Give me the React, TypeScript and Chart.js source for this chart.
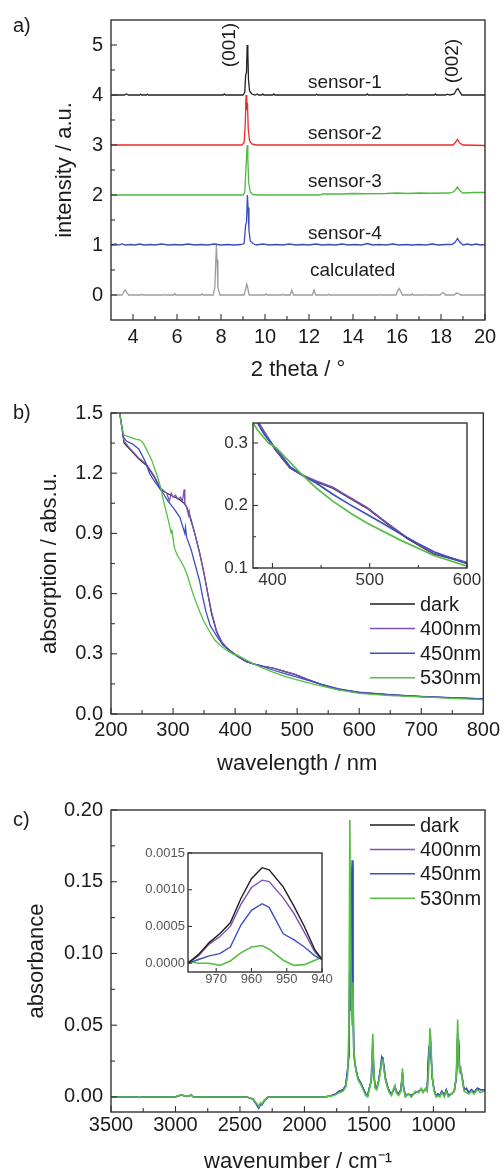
import React, { useEffect, useRef } from "react";
import { Chart, registerables } from "chart.js";

Chart.register(...registerables);

const FONT = "'Liberation Sans', Arial, Helvetica, sans-serif";
const INK = "#1c1c1c";

// ---------------- Panel a) XRD ----------------
const A_X_TICKS = [4, 6, 8, 10, 12, 14, 16, 18, 20];
const A_X_MINOR = [5, 7, 9, 11, 13, 15, 17, 19];
const A_Y_TICKS = [0, 1, 2, 3, 4, 5];
const A_Y_MINOR = [0.5, 1.5, 2.5, 3.5, 4.5];
const A_SERIES_NAMES = ["sensor-1", "sensor-2", "sensor-3", "sensor-4", "calculated"];
const A_SENSOR1: [number, number][] = [
  [3.0, 4.0], [3.6, 4.0], [3.7, 4.02], [3.8, 4.0], [4.3, 4.0], [4.35, 4.015], [4.4, 4.0], [4.6, 4.0], [4.65, 4.015], [4.7, 4.0],
  [8.1, 4.0], [8.15, 4.02], [8.2, 4.0], [9.0, 4.0], [9.08, 4.05], [9.12, 4.4], [9.16, 4.45], [9.19, 5.0], [9.22, 4.85], [9.25, 4.3],
  [9.3, 4.08], [9.4, 4.02], [9.55, 4.0], [9.65, 4.02], [9.7, 4.0], [9.85, 4.0], [9.9, 4.02], [9.95, 4.0], [10.35, 4.0], [10.4, 4.02],
  [10.45, 4.0], [12.3, 4.0], [12.35, 4.015], [12.4, 4.0], [14.6, 4.0], [14.65, 4.02], [14.7, 4.0], [16.4, 4.0], [16.45, 4.015], [16.5, 4.0],
  [17.7, 4.0], [17.75, 4.02], [17.8, 4.0], [18.2, 4.0], [18.3, 4.015], [18.4, 4.0], [18.6, 4.02], [18.7, 4.1], [18.77, 4.13], [18.85, 4.06],
  [18.95, 4.0], [20.0, 4.0],
];
const A_SENSOR2: [number, number][] = [
  [3.0, 3.0], [8.95, 3.0], [9.05, 3.05], [9.1, 3.4], [9.14, 4.0], [9.17, 3.7], [9.2, 3.85], [9.24, 3.3], [9.3, 3.08], [9.4, 3.02],
  [9.6, 3.0], [18.55, 3.0], [18.65, 3.05], [18.75, 3.11], [18.85, 3.04], [19.0, 3.0], [20.0, 2.99],
];
const A_SENSOR3: [number, number][] = [
  [3.0, 2.0], [9.0, 2.0], [9.08, 2.05], [9.13, 2.5], [9.16, 2.75], [9.19, 3.0], [9.22, 2.7], [9.26, 2.25], [9.33, 2.06], [9.45, 2.01],
  [9.7, 2.0], [12.5, 2.0], [12.6, 2.02], [13.5, 2.02], [14.0, 2.03], [14.5, 2.025], [15.5, 2.03], [16.0, 2.04], [16.5, 2.03], [17.0, 2.04],
  [17.5, 2.035], [18.4, 2.04], [18.6, 2.07], [18.75, 2.16], [18.85, 2.09], [19.0, 2.04], [19.5, 2.05], [20.0, 2.05],
];
const A_SENSOR4: [number, number][] = [
  [3.0, 1.0], [3.2, 1.02], [3.35, 1.0], [3.5, 1.02], [3.65, 1.0], [3.9, 1.01], [4.1, 1.0], [4.3, 1.02], [4.5, 1.0], [4.8, 1.01],
  [5.0, 1.0], [5.3, 1.02], [5.6, 1.0], [5.9, 1.01], [6.2, 1.0], [6.5, 1.02], [6.8, 1.0], [7.1, 1.01], [7.4, 1.0], [7.7, 1.02],
  [8.0, 1.0], [8.3, 1.01], [8.6, 1.0], [8.9, 1.01], [9.05, 1.03], [9.12, 1.4], [9.16, 1.45], [9.2, 2.0], [9.23, 1.75], [9.27, 1.3],
  [9.33, 1.08], [9.45, 1.03], [9.6, 1.0], [9.9, 1.02], [10.2, 1.0], [10.5, 1.01], [10.8, 1.0], [11.1, 1.02], [11.4, 1.0], [11.7, 1.01],
  [12.0, 1.0], [12.3, 1.02], [12.6, 1.0], [12.9, 1.01], [13.2, 1.0], [13.5, 1.02], [13.8, 1.0], [14.1, 1.01], [14.4, 1.0], [14.65, 1.03],
  [14.9, 1.0], [15.2, 1.01], [15.5, 1.0], [15.8, 1.02], [16.1, 1.0], [16.4, 1.01], [16.7, 1.0], [17.0, 1.01], [17.3, 1.0], [17.6, 1.02],
  [17.9, 1.0], [18.2, 1.01], [18.5, 1.01], [18.65, 1.06], [18.75, 1.13], [18.85, 1.06], [19.0, 1.0], [19.2, 1.02], [19.4, 1.0], [19.6, 1.02],
  [19.8, 1.0], [20.0, 1.01],
];
const A_CALC: [number, number][] = [
  [3.0, 0.0], [3.5, 0.0], [3.6, 0.08], [3.65, 0.1], [3.72, 0.05], [3.8, 0.0], [4.35, 0.0], [4.4, 0.015], [4.45, 0.0], [5.4, 0.0],
  [5.45, 0.01], [5.5, 0.0], [5.85, 0.0], [5.9, 0.03], [5.95, 0.0], [7.1, 0.0], [7.15, 0.02], [7.2, 0.0], [7.65, 0.0], [7.72, 0.15],
  [7.76, 0.65], [7.79, 1.0], [7.82, 0.7], [7.86, 0.15], [7.95, 0.0], [9.05, 0.0], [9.12, 0.12], [9.17, 0.22], [9.21, 0.15], [9.28, 0.0],
  [10.0, 0.0], [10.05, 0.02], [10.1, 0.0], [10.75, 0.0], [10.8, 0.015], [10.85, 0.0], [11.15, 0.0], [11.22, 0.1], [11.3, 0.0], [12.15, 0.0],
  [12.23, 0.1], [12.3, 0.0], [12.85, 0.0], [12.9, 0.015], [12.95, 0.0], [15.15, 0.0], [15.2, 0.01], [15.25, 0.0], [15.95, 0.0], [16.05, 0.1],
  [16.1, 0.13], [16.15, 0.09], [16.25, 0.0], [16.65, 0.0], [16.7, 0.02], [16.75, 0.0], [17.25, 0.0], [17.3, 0.01], [17.35, 0.0], [17.95, 0.0],
  [18.05, 0.04], [18.1, 0.05], [18.2, 0.0], [18.6, 0.0], [18.7, 0.04], [18.8, 0.03], [18.9, 0.0], [20.0, 0.0],
];
const A_NOTES = [
  { text: "sensor-1", x: 11.95, y: 4.24 },
  { text: "sensor-2", x: 11.95, y: 3.23 },
  { text: "sensor-3", x: 11.95, y: 2.27 },
  { text: "sensor-4", x: 11.95, y: 1.23 },
  { text: "calculated", x: 12.04, y: 0.48 },
  { text: "(001)", x: 8.41, y: 5.0, rot: true },
  { text: "(002)", x: 18.55, y: 4.68, rot: true },
];

// ---------------- Panel b) UV-vis ----------------
const B_X_TICKS = [200, 300, 400, 500, 600, 700, 800];
const B_X_MINOR = [250, 350, 450, 550, 650, 750];
const B_Y_TICKS = [0, 0.3, 0.6, 0.9, 1.2, 1.5];
const B_Y_MINOR = [0.15, 0.45, 0.75, 1.05, 1.35];
const BI_X_TICKS = [400, 500, 600];
const BI_X_MINOR = [450, 550];
const BI_Y_TICKS = [0.1, 0.2, 0.3];
const BI_Y_MINOR = [0.15, 0.25];
const SERIES_NAMES = ["dark", "400nm", "450nm", "530nm"];
const B_DARK: [number, number][] = [
  [214, 1.5], [218, 1.42], [221, 1.35], [230, 1.32], [245, 1.27], [257, 1.24], [270, 1.18], [280, 1.12], [290, 1.1], [300, 1.085],
  [310, 1.07], [318, 1.05], [322, 1.03], [328, 0.98], [335, 0.9], [343, 0.8], [350, 0.7], [356, 0.6], [362, 0.5], [370, 0.41],
  [378, 0.36], [386, 0.33], [394, 0.31], [404, 0.287], [418, 0.26], [432, 0.247], [445, 0.238], [462, 0.228], [476, 0.215], [497, 0.196],
  [517, 0.172], [538, 0.148], [565, 0.123], [600, 0.108], [650, 0.095], [700, 0.087], [750, 0.08], [800, 0.075],
];
const B_400: [number, number][] = [
  [214, 1.5], [218, 1.42], [221, 1.36], [230, 1.325], [245, 1.275], [257, 1.245], [270, 1.185], [280, 1.125], [290, 1.1], [294, 1.06],
  [297, 1.1], [300, 1.08], [304, 1.09], [308, 1.07], [312, 1.08], [315, 1.06], [318, 1.12], [319, 1.05], [322, 1.03], [325, 0.99],
  [326, 1.01], [328, 0.97], [335, 0.9], [343, 0.8], [350, 0.7], [356, 0.6], [362, 0.51], [370, 0.415], [378, 0.362], [386, 0.332],
  [394, 0.312], [404, 0.288], [418, 0.261], [432, 0.248], [445, 0.239], [462, 0.229], [476, 0.216], [497, 0.197], [517, 0.173], [538, 0.149],
  [565, 0.124], [600, 0.109], [650, 0.096], [700, 0.088], [750, 0.081], [800, 0.075],
];
const B_450: [number, number][] = [
  [214, 1.5], [220, 1.38], [225, 1.36], [235, 1.345], [245, 1.32], [255, 1.26], [262, 1.2], [270, 1.16], [284, 1.1], [292, 1.06],
  [300, 1.03], [311, 0.98], [317, 0.92], [319, 0.9], [320, 0.93], [322, 0.88], [329, 0.82], [336, 0.74], [343, 0.66], [348, 0.58],
  [353, 0.51], [360, 0.44], [370, 0.39], [380, 0.345], [391, 0.315], [400, 0.297], [407, 0.285], [418, 0.262], [432, 0.247], [445, 0.236],
  [462, 0.218], [480, 0.201], [497, 0.186], [515, 0.17], [531, 0.155], [550, 0.139], [566, 0.126], [600, 0.107], [650, 0.095], [700, 0.087],
  [750, 0.08], [800, 0.075],
];
const B_530: [number, number][] = [
  [214, 1.5], [218, 1.42], [221, 1.39], [230, 1.38], [240, 1.37], [247, 1.365], [252, 1.35], [257, 1.32], [265, 1.27], [273, 1.2],
  [280, 1.13], [284, 1.07], [288, 1.02], [292, 0.97], [297, 0.9], [298, 0.92], [302, 0.83], [307, 0.79], [313, 0.76], [318, 0.73],
  [322, 0.7], [327, 0.65], [332, 0.6], [338, 0.55], [343, 0.51], [350, 0.46], [359, 0.41], [367, 0.37], [375, 0.345], [385, 0.32],
  [396, 0.3], [404, 0.292], [428, 0.253], [445, 0.228], [462, 0.207], [480, 0.188], [497, 0.172], [531, 0.145], [566, 0.12], [600, 0.103],
  [650, 0.092], [700, 0.085], [750, 0.078], [800, 0.072],
];

// ---------------- Panel c) FTIR ----------------
const C_X_TICKS = [3500, 3000, 2500, 2000, 1500, 1000];
const C_X_MINOR = [3250, 2750, 2250, 1750, 1250, 750];
const C_Y_TICKS = [0, 0.05, 0.1, 0.15, 0.2];
const C_Y_MINOR = [0.025, 0.075, 0.125, 0.175];
const C_X = [
  3500, 3300, 3280, 3260, 3000, 2960, 2940, 2915, 2895, 2880,
  2860, 2450, 2400, 2370, 2355, 2340, 2330, 2310, 2280, 1850,
  1800, 1760, 1730, 1700, 1680, 1665, 1655, 1648, 1642, 1636,
  1630, 1624, 1618, 1610, 1600, 1585, 1565, 1545, 1525, 1510,
  1495, 1482, 1470, 1462, 1452, 1440, 1425, 1410, 1400, 1392,
  1385, 1372, 1358, 1342, 1325, 1308, 1298, 1288, 1270, 1252,
  1240, 1232, 1218, 1195, 1170, 1140, 1115, 1095, 1080, 1062,
  1048, 1036, 1027, 1020, 1010, 995, 980, 965, 950, 935,
  915, 900, 885, 860, 838, 822, 812, 805, 797, 787,
  776, 762, 745, 725, 705, 685, 660, 635, 610, 600,
];
const C_530 = [
  0, 0, -0.0004, 0, 0, 0.0015, 0.0012, 0.0004, 0.0006, 0.0016,
  0, 0, -0.0012, -0.0045, -0.0065, -0.004, -0.0048, -0.002, 0, 0,
  0.0005, 0.0015, 0.003, 0.004, 0.007, 0.015, 0.05, 0.193, 0.11, 0.06,
  0.05, 0.08, 0.035, 0.025, 0.018, 0.012, 0.009, 0.005, 0.001, 0.0,
  0.006, 0.012, 0.044, 0.018, 0.006, 0.005, 0.01, 0.018, 0.025, 0.026,
  0.02, 0.012, 0.007, 0.003, 0.001, 0.006, 0.008, 0.003, 0.001, 0.004,
  0.02, 0.006, 0.0, 0.002, 0.0, 0.004, 0.003, 0.006, 0.003, 0.006,
  0.004, 0.02, 0.048, 0.04, 0.015, 0.004, 0.0, 0.001, 0.0, 0.003,
  0.0, 0.004, 0.0, 0.002, 0.004, 0.015, 0.054, 0.03, 0.018, 0.02,
  0.012, 0.004, 0.003, 0.002, 0.004, 0.002, 0.005, 0.003, 0.004, 0.004,
];
const C_450 = [
  0, 0, -0.0004, 0, 0, 0.0013, 0.001, 0.0003, 0.0005, 0.0014,
  0, 0, -0.0015, -0.0055, -0.0078, -0.005, -0.0055, -0.0025, 0, 0,
  0.0006, 0.002, 0.004, 0.005, 0.008, 0.02, 0.03, 0.097, 0.06, 0.09,
  0.165, 0.08, 0.033, 0.024, 0.019, 0.013, 0.01, 0.006, 0.002, 0.001,
  0.007, 0.011, 0.038, 0.016, 0.007, 0.006, 0.011, 0.02, 0.028, 0.027,
  0.022, 0.013, 0.008, 0.004, 0.002, 0.005, 0.007, 0.004, 0.002, 0.005,
  0.017, 0.007, 0.001, 0.002, 0.001, 0.003, 0.004, 0.005, 0.004, 0.005,
  0.006, 0.033, 0.03, 0.034, 0.014, 0.005, 0.001, 0.002, 0.001, 0.004,
  0.001, 0.005, 0.001, 0.002, 0.004, 0.014, 0.044, 0.04, 0.02, 0.018,
  0.013, 0.005, 0.006, 0.003, 0.005, 0.003, 0.006, 0.005, 0.005, 0.005,
];
const C_400 = [
  0, 0, -0.0004, 0, 0, 0.0013, 0.001, 0.0003, 0.0005, 0.0014,
  0, 0, -0.0014, -0.0052, -0.0075, -0.0048, -0.0053, -0.0024, 0, 0,
  0.0006, 0.002, 0.004, 0.005, 0.008, 0.019, 0.03, 0.095, 0.06, 0.088,
  0.162, 0.079, 0.033, 0.024, 0.019, 0.013, 0.01, 0.006, 0.002, 0.001,
  0.007, 0.011, 0.037, 0.016, 0.007, 0.006, 0.011, 0.02, 0.027, 0.027,
  0.022, 0.013, 0.008, 0.004, 0.002, 0.005, 0.007, 0.004, 0.002, 0.005,
  0.017, 0.007, 0.001, 0.002, 0.001, 0.003, 0.004, 0.005, 0.004, 0.005,
  0.006, 0.032, 0.03, 0.033, 0.014, 0.005, 0.001, 0.002, 0.001, 0.004,
  0.001, 0.005, 0.001, 0.002, 0.004, 0.014, 0.043, 0.039, 0.02, 0.018,
  0.013, 0.005, 0.006, 0.003, 0.005, 0.003, 0.006, 0.005, 0.005, 0.005,
];
const C_DARK = [
  0, 0, -0.0004, 0, 0, 0.0013, 0.001, 0.0003, 0.0005, 0.0014,
  0, 0, -0.0014, -0.0052, -0.0074, -0.0048, -0.0053, -0.0024, 0, 0,
  0.0006, 0.002, 0.004, 0.005, 0.008, 0.019, 0.03, 0.094, 0.06, 0.087,
  0.16, 0.078, 0.033, 0.024, 0.019, 0.013, 0.01, 0.006, 0.002, 0.001,
  0.007, 0.011, 0.037, 0.016, 0.007, 0.006, 0.011, 0.02, 0.027, 0.027,
  0.022, 0.013, 0.008, 0.004, 0.002, 0.005, 0.007, 0.004, 0.002, 0.005,
  0.017, 0.007, 0.001, 0.002, 0.001, 0.003, 0.004, 0.005, 0.004, 0.005,
  0.006, 0.032, 0.03, 0.033, 0.014, 0.005, 0.001, 0.002, 0.001, 0.004,
  0.001, 0.005, 0.001, 0.002, 0.004, 0.014, 0.043, 0.039, 0.02, 0.018,
  0.013, 0.005, 0.006, 0.003, 0.005, 0.003, 0.006, 0.005, 0.005, 0.005,
];
const CI_X_TICKS = [970, 960, 950, 940];
const CI_Y_TICKS = [0, 0.0005, 0.001, 0.0015];
const CI_X = [978, 975, 972, 969, 966, 963, 960, 957, 955, 951, 948, 945, 942, 940];
const CI_DARK = [0.0, 0.00012, 0.00028, 0.0004, 0.00055, 0.00088, 0.00115, 0.0013, 0.00127, 0.00104, 0.00078, 0.0005, 0.00018, 0.00005];
const CI_400 = [0.0, 0.0001, 0.00026, 0.00036, 0.0005, 0.0008, 0.00103, 0.00113, 0.00111, 0.00089, 0.00068, 0.00042, 0.00015, 0.00005];
const CI_450 = [0.0, 0.00005, 0.0001, 0.00013, 0.00022, 0.00052, 0.00072, 0.00081, 0.00076, 0.0004, 0.00032, 0.00022, 0.0001, 0.00005];
const CI_530 = [0.00003, 0.0, 0.0, -0.00003, 0.00003, 0.00014, 0.00022, 0.00024, 0.00019, 0.00004, -0.00003, -0.00002, 0.00004, 0.00008];

const COL = { dark: "#1e1e1e", p400: "#7b52b3", p450: "#3c4fbf", p530: "#55c044" };

// ---------------- helpers ----------------
const pairs = (arr: [number, number][]) => arr.map(([x, y]) => ({ x, y }));
const zipXY = (xs: number[], ys: number[]) => xs.map((x, i) => ({ x, y: ys[i] }));

type Geo = { w: number; h: number; left: number; right: number; top: number; bottom: number };

function framePlugin(xMinor: number[], yMinor: number[], major: number, minor: number) {
  return {
    id: "frame",
    afterDraw(chart: any) {
      const { ctx, chartArea } = chart;
      const { left, right, top, bottom } = chartArea;
      const xs = chart.scales.x;
      const ys = chart.scales.y;
      ctx.save();
      ctx.strokeStyle = "#333";
      ctx.lineWidth = 1.4;
      ctx.strokeRect(left, top, right - left, bottom - top);
      ctx.lineWidth = 1.1;
      const dx = (vals: number[], len: number) =>
        vals.forEach((v) => {
          const p = xs.getPixelForValue(v);
          if (p < left - 0.5 || p > right + 0.5) return;
          ctx.beginPath();
          ctx.moveTo(p, bottom);
          ctx.lineTo(p, bottom - len);
          ctx.stroke();
        });
      const dy = (vals: number[], len: number) =>
        vals.forEach((v) => {
          const p = ys.getPixelForValue(v);
          if (p < top - 0.5 || p > bottom + 0.5) return;
          ctx.beginPath();
          ctx.moveTo(left, p);
          ctx.lineTo(left + len, p);
          ctx.stroke();
        });
      dx(xs.ticks.map((t: any) => t.value), major);
      dx(xMinor, minor);
      dy(ys.ticks.map((t: any) => t.value), major);
      dy(yMinor, minor);
      ctx.restore();
    },
  };
}

function keyPlugin(x: number, y: number, step: number, size: number) {
  return {
    id: "key",
    afterDraw(chart: any) {
      const ctx = chart.ctx;
      ctx.save();
      ctx.font = `${size}px ${FONT}`;
      ctx.textBaseline = "middle";
      ctx.textAlign = "left";
      chart.data.datasets.forEach((ds: any, i: number) => {
        const yy = y + i * step;
        ctx.strokeStyle = ds.borderColor;
        ctx.lineWidth = 1.5;
        ctx.beginPath();
        ctx.moveTo(x, yy);
        ctx.lineTo(x + 45, yy);
        ctx.stroke();
        ctx.fillStyle = INK;
        ctx.fillText(ds.label, x + 50, yy + 1);
      });
      ctx.restore();
    },
  };
}

function notesPlugin(items: { text: string; x: number; y: number; rot?: boolean }[], size: number) {
  return {
    id: "notes",
    afterDatasetsDraw(chart: any) {
      const { ctx } = chart;
      const xs = chart.scales.x;
      const ys = chart.scales.y;
      ctx.save();
      ctx.fillStyle = INK;
      ctx.font = `${size}px ${FONT}`;
      items.forEach((it) => {
        const px = xs.getPixelForValue(it.x);
        const py = ys.getPixelForValue(it.y);
        ctx.save();
        ctx.translate(px, py);
        if (it.rot) {
          ctx.rotate(-Math.PI / 2);
          ctx.textAlign = "center";
        } else {
          ctx.textAlign = "left";
        }
        ctx.textBaseline = "middle";
        ctx.fillText(it.text, 0, 0);
        ctx.restore();
      });
      ctx.restore();
    },
  };
}

type AxisSpec = {
  min: number;
  max: number;
  reverse?: boolean;
  ticks: number[];
  fmt: (v: number) => string;
  title?: string;
  titlePad?: number;
  pad: number;
};

function buildConfig(opts: {
  geo: Geo;
  datasets: any[];
  x: AxisSpec;
  y: AxisSpec;
  tickSize: number;
  tickColor?: string;
  plugins: any[];
}) {
  const { geo, x, y, tickSize } = opts;
  const tickColor = opts.tickColor || INK;
  const titleFont = { family: FONT, size: 22, lineHeight: 1 };
  return {
    type: "line",
    data: { datasets: opts.datasets },
    options: {
      animation: false,
      responsive: false,
      maintainAspectRatio: false,
      events: [],
      layout: { padding: { left: 0, top: geo.top, right: geo.w - geo.right, bottom: 0 } },
      elements: { point: { radius: 0 }, line: { tension: 0, borderWidth: 1.2 } },
      plugins: { legend: { display: false }, tooltip: { enabled: false } },
      scales: {
        x: {
          type: "linear",
          min: x.min,
          max: x.max,
          reverse: !!x.reverse,
          grid: { display: false, drawTicks: false, tickLength: 0 },
          border: { display: false },
          afterBuildTicks: (s: any) => {
            s.ticks = x.ticks.map((v) => ({ value: v }));
          },
          afterFit: (s: any) => {
            s.height = geo.h - geo.bottom;
          },
          ticks: {
            autoSkip: false,
            maxRotation: 0,
            padding: x.pad,
            color: tickColor,
            font: { family: FONT, size: tickSize },
            callback: (v: number) => x.fmt(v),
          },
          title: {
            display: !!x.title,
            text: x.title || "",
            color: INK,
            font: titleFont,
            padding: { top: 0, bottom: x.titlePad || 0 },
          },
        },
        y: {
          type: "linear",
          min: y.min,
          max: y.max,
          grid: { display: false, drawTicks: false, tickLength: 0 },
          border: { display: false },
          afterBuildTicks: (s: any) => {
            s.ticks = y.ticks.map((v) => ({ value: v }));
          },
          afterFit: (s: any) => {
            s.width = geo.left;
          },
          ticks: {
            autoSkip: false,
            padding: y.pad,
            color: tickColor,
            font: { family: FONT, size: tickSize },
            callback: (v: number) => y.fmt(v),
          },
          title: {
            display: !!y.title,
            text: y.title || "",
            color: INK,
            font: titleFont,
            padding: { top: y.titlePad || 0, bottom: 0 },
          },
        },
      },
    },
    plugins: opts.plugins,
  } as any;
}

function ChartBox({ left, top, w, h, make }: { left: number; top: number; w: number; h: number; make: () => any }) {
  const ref = useRef<HTMLCanvasElement>(null);
  useEffect(() => {
    const chart = new Chart(ref.current as HTMLCanvasElement, make());
    return () => chart.destroy();
  }, []);
  return (
    <div style={{ position: "absolute", left, top, width: w, height: h }}>
      <canvas ref={ref} width={w} height={h} style={{ width: w, height: h, display: "block" }} />
    </div>
  );
}

const str = (v: number) => String(v);

function makeA() {
  const geo = { w: 504, h: 385, left: 111, right: 485, top: 19, bottom: 320 };
  const cols = ["#222222", "#ee2b2b", "#4cbb3c", "#3c4cb8", "#9d9d9d"];
  const data = [A_SENSOR1, A_SENSOR2, A_SENSOR3, A_SENSOR4, A_CALC];
  const datasets = data.map((d, i) => ({
    label: A_SERIES_NAMES[i],
    data: pairs(d),
    borderColor: cols[i],
    borderWidth: 1.3,
  }));
  return buildConfig({
    geo,
    datasets,
    x: { min: 3, max: 20, ticks: A_X_TICKS, fmt: str, title: "2 theta / °", titlePad: 4, pad: 5 },
    y: { min: -0.5, max: 5.5, ticks: A_Y_TICKS, fmt: str, title: "intensity / a.u.", titlePad: 54, pad: 8 },
    tickSize: 20,
    plugins: [framePlugin(A_X_MINOR, A_Y_MINOR, 6, 4), notesPlugin(A_NOTES, 19)],
  });
}

function bDatasets(width: number) {
  return [
    { label: SERIES_NAMES[0], data: pairs(B_DARK), borderColor: COL.dark, borderWidth: width * 0.9, order: 3 },
    { label: SERIES_NAMES[1], data: pairs(B_400), borderColor: COL.p400, borderWidth: width, order: 2 },
    { label: SERIES_NAMES[2], data: pairs(B_450), borderColor: COL.p450, borderWidth: width, order: 1 },
    { label: SERIES_NAMES[3], data: pairs(B_530), borderColor: COL.p530, borderWidth: width, order: 0 },
  ];
}

function makeB() {
  const geo = { w: 504, h: 390, left: 111, right: 485, top: 28, bottom: 329 };
  return buildConfig({
    geo,
    datasets: bDatasets(1.3),
    x: { min: 200, max: 800, ticks: B_X_TICKS, fmt: str, title: "wavelength / nm", titlePad: 0, pad: 4 },
    y: { min: 0, max: 1.5, ticks: B_Y_TICKS, fmt: (v) => v.toFixed(1), title: "absorption / abs.u.", titlePad: 39, pad: 8 },
    tickSize: 20,
    plugins: [framePlugin(B_X_MINOR, B_Y_MINOR, 6, 4), keyPlugin(370, 219, 24.6, 20)],
  });
}

function makeBI() {
  const geo = { w: 290, h: 195, left: 53, right: 267, top: 23, bottom: 168 };
  return buildConfig({
    geo,
    datasets: bDatasets(1.7),
    x: { min: 380, max: 600, ticks: BI_X_TICKS, fmt: str, pad: 2 },
    y: { min: 0.1, max: 0.332, ticks: BI_Y_TICKS, fmt: (v) => v.toFixed(1), pad: 5 },
    tickSize: 17,
    tickColor: "#333",
    plugins: [framePlugin(BI_X_MINOR, BI_Y_MINOR, 5, 3)],
  });
}

function makeC() {
  const geo = { w: 504, h: 399, left: 111, right: 485, top: 35, bottom: 337 };
  const datasets = [
    { label: SERIES_NAMES[0], data: zipXY(C_X, C_DARK), borderColor: COL.dark, order: 3 },
    { label: SERIES_NAMES[1], data: zipXY(C_X, C_400), borderColor: COL.p400, order: 2 },
    { label: SERIES_NAMES[2], data: zipXY(C_X, C_450), borderColor: COL.p450, order: 1, borderWidth: 1.6 },
    { label: SERIES_NAMES[3], data: zipXY(C_X, C_530), borderColor: COL.p530, order: 0, borderWidth: 1.6 },
  ];
  return buildConfig({
    geo,
    datasets,
    x: { min: 600, max: 3500, reverse: true, ticks: C_X_TICKS, fmt: str, title: "wavenumber / cm⁻¹", titlePad: 1, pad: 1 },
    y: { min: -0.0105, max: 0.2, ticks: C_Y_TICKS, fmt: (v) => v.toFixed(2), title: "absorbance", titlePad: 26, pad: 8 },
    tickSize: 20,
    plugins: [framePlugin(C_X_MINOR, C_Y_MINOR, 6, 4), keyPlugin(370, 50, 24.4, 20)],
  });
}

function makeCI() {
  const geo = { w: 210, h: 150, left: 58, right: 192, top: 13, bottom: 132 };
  const datasets = [
    { label: SERIES_NAMES[0], data: zipXY(CI_X, CI_DARK), borderColor: COL.dark, borderWidth: 1.4 },
    { label: SERIES_NAMES[1], data: zipXY(CI_X, CI_400), borderColor: COL.p400, borderWidth: 1.4 },
    { label: SERIES_NAMES[2], data: zipXY(CI_X, CI_450), borderColor: COL.p450, borderWidth: 1.4 },
    { label: SERIES_NAMES[3], data: zipXY(CI_X, CI_530), borderColor: COL.p530, borderWidth: 1.6 },
  ];
  return buildConfig({
    geo,
    datasets,
    x: { min: 940, max: 978, reverse: true, ticks: CI_X_TICKS, fmt: str, pad: 0 },
    y: { min: -0.00012, max: 0.0015, ticks: CI_Y_TICKS, fmt: (v) => v.toFixed(4), pad: 3 },
    tickSize: 13,
    tickColor: "#555",
    plugins: [framePlugin([], [], 4, 3)],
  });
}

const labelStyle = (top: number): React.CSSProperties => ({
  position: "absolute",
  left: 13,
  top,
  fontFamily: FONT,
  fontSize: 20,
  lineHeight: "20px",
  color: INK,
});

export default function App() {
  return (
    <div style={{ position: "absolute", left: 0, top: 0, width: 504, height: 1174, background: "#fff", overflow: "hidden" }}>
      <ChartBox left={0} top={0} w={504} h={385} make={makeA} />
      <ChartBox left={0} top={385} w={504} h={390} make={makeB} />
      <ChartBox left={200} top={400} w={290} h={195} make={makeBI} />
      <ChartBox left={0} top={775} w={504} h={399} make={makeC} />
      <ChartBox left={130} top={840} w={210} h={150} make={makeCI} />
      <div style={labelStyle(15)}>a)</div>
      <div style={labelStyle(402)}>b)</div>
      <div style={labelStyle(809)}>c)</div>
    </div>
  );
}
